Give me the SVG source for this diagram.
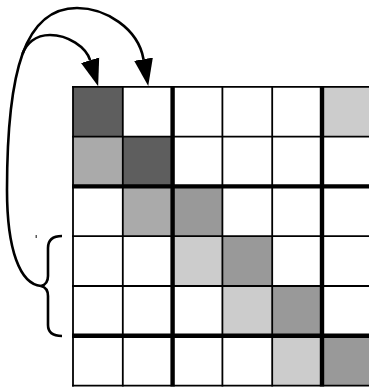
<svg xmlns="http://www.w3.org/2000/svg" width="369" height="387" viewBox="0 0 369 387">
<style>
.c{stroke:none}
.dk{fill:#5e5e5e}
.lt{fill:#aaaaaa}
.md{fill:#999999}
.pl{fill:#cccccc}
.thin{stroke:#000;stroke-width:1.8;fill:none}
.thick{stroke:#000;stroke-width:4.4;fill:none}
.con{stroke:#000;stroke-width:2.6;fill:none}
</style>
<defs>
<marker id="ah" markerUnits="userSpaceOnUse" markerWidth="28" markerHeight="20" refX="0" refY="9.5" orient="auto" viewBox="0 0 28 19">
<path d="M0,0 L27.2,9.5 L0,19 Z" fill="#000"/>
</marker>
</defs>
<rect width="369" height="387" fill="#fff"/>
<g id="cells">
<rect id="cell-0-0" class="c dk" x="73" y="86.8" width="49.8" height="49.8"/>
<rect id="cell-1-0" class="c lt" x="73" y="136.6" width="49.8" height="49.8"/>
<rect id="cell-1-1" class="c dk" x="122.8" y="136.6" width="49.8" height="49.8"/>
<rect id="cell-2-1" class="c lt" x="122.8" y="186.4" width="49.8" height="49.8"/>
<rect id="cell-2-2" class="c md" x="172.6" y="186.4" width="49.8" height="49.8"/>
<rect id="cell-3-2" class="c pl" x="172.6" y="236.2" width="49.8" height="49.8"/>
<rect id="cell-3-3" class="c md" x="222.4" y="236.2" width="49.8" height="49.8"/>
<rect id="cell-4-3" class="c pl" x="222.4" y="286" width="49.8" height="49.8"/>
<rect id="cell-4-4" class="c md" x="272.2" y="286" width="49.8" height="49.8"/>
<rect id="cell-5-4" class="c pl" x="272.2" y="335.8" width="49.8" height="49.8"/>
<rect id="cell-5-5" class="c md" x="322" y="335.8" width="49.8" height="49.8"/>
<rect id="cell-0-5" class="c pl" x="322" y="86.8" width="49.8" height="49.8"/>
</g>
<g id="grid">
<line class="thin" x1="73" y1="86" x2="73" y2="386.5"/>
<line class="thin" x1="122.8" y1="86" x2="122.8" y2="386.5"/>
<line class="thick" x1="172.6" y1="86" x2="172.6" y2="386.5"/>
<line class="thin" x1="222.4" y1="86" x2="222.4" y2="386.5"/>
<line class="thin" x1="272.2" y1="86" x2="272.2" y2="386.5"/>
<line class="thick" x1="322" y1="86" x2="322" y2="386.5"/>
<line class="thin" x1="72" y1="86.8" x2="369" y2="86.8"/>
<line class="thin" x1="72" y1="136.6" x2="369" y2="136.6"/>
<line class="thick" x1="72" y1="186.4" x2="369" y2="186.4"/>
<line class="thin" x1="72" y1="236.2" x2="369" y2="236.2"/>
<line class="thin" x1="72" y1="286" x2="369" y2="286"/>
<line class="thick" x1="72" y1="335.8" x2="369" y2="335.8"/>
<line class="thin" x1="72" y1="385.6" x2="369" y2="385.6"/>
</g>
<g id="brace">
<path class="con" d="M 62 236 C 52 236, 48 240, 48 248 L 48 276 C 48 282, 45 285, 41 286 C 45 287, 48 290, 48 296 L 48 325 C 48 332, 52 336, 62 336"/>
<rect x="35.6" y="235" width="1.2" height="3" fill="#333"/>
</g>
<g id="connectors">
<path class="con" d="M 41 286 C 20 284, 7 250, 7 190 C 7 70, 25 8, 77 8 C 105 8, 138 28, 143.5 59.2" marker-end="url(#ah)"/>
<path class="con" d="M 22.5 54 C 26 44, 35 35, 50 35 C 68 35, 86 47, 90.1 60.2" marker-end="url(#ah)"/>
</g>
</svg>
